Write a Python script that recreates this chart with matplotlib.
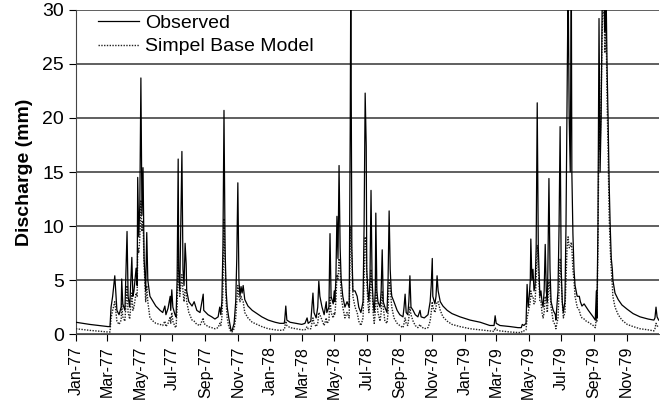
import numpy as np
import pandas as pd
import matplotlib
matplotlib.use("Agg")
import matplotlib.pyplot as plt
import matplotlib.dates as mdates

plt.rcParams['font.family'] = ['Liberation Sans', 'DejaVu Sans']

# days since 1977-01-01, observed discharge and Simpel base model (mm)
day = [0, 26, 60, 64, 66, 69, 73, 77, 81, 85, 86, 88, 92, 96, 98, 101, 105, 107, 109, 113,
       115, 116, 118, 120, 122, 124, 126, 128, 130, 131, 133, 135, 139, 145, 150, 158, 163, 167, 169, 173,
       177, 178, 180, 182, 186, 188, 190, 192, 193, 195, 199, 201, 203, 205, 207, 208, 212, 218, 222, 227,
       233, 239, 240, 248, 255, 261, 267, 270, 272, 274, 276, 278, 280, 282, 284, 287, 291, 293, 297, 300,
       302, 304, 306, 308, 310, 312, 314, 317, 323, 331, 340, 349, 361, 374, 383, 391, 392, 394, 396, 402,
       413, 424, 430, 434, 436, 441, 445, 447, 451, 454, 456, 458, 462, 466, 470, 471, 475, 477, 479, 483,
       485, 486, 488, 490, 492, 494, 496, 498, 501, 505, 509, 513, 515, 516, 518, 520, 524, 528, 531, 535,
       539, 541, 543, 545, 546, 548, 550, 552, 554, 556, 558, 560, 562, 563, 565, 567, 571, 573, 575, 577,
       580, 584, 586, 588, 590, 592, 593, 597, 603, 608, 614, 616, 618, 620, 623, 625, 627, 629, 633, 637,
       642, 646, 648, 654, 661, 665, 667, 669, 670, 674, 676, 678, 680, 684, 689, 697, 706, 721, 740, 759,
       777, 785, 787, 789, 796, 815, 830, 836, 838, 841, 845, 847, 849, 851, 853, 854, 856, 858, 860, 862,
       864, 866, 868, 870, 871, 873, 875, 877, 879, 881, 883, 885, 886, 888, 890, 892, 896, 900, 901, 905,
       907, 909, 911, 913, 915, 918, 920, 922, 924, 926, 928, 930, 931, 933, 935, 937, 941, 945, 947, 950,
       954, 958, 962, 965, 971, 975, 977, 978, 980, 982, 984, 986, 988, 990, 992, 993, 995, 997, 999, 1001,
       1003, 1005, 1007, 1008, 1012, 1018, 1025, 1035, 1046, 1059, 1074, 1085, 1087, 1089, 1091, 1094]

observed = [1.1, 0.9, 0.7, 0.7, 2.5, 3.5, 5.4, 2.2, 1.8, 2.5, 5.1, 2.8, 2.2, 9.5, 3.5, 2.5, 7.1, 3.5, 4.0, 6.1,
            4.5, 14.5, 9.0, 12.0, 23.7, 11.0, 15.4, 7.0, 5.0, 4.0, 9.4, 5.0, 3.5, 3.0, 2.6, 2.2, 2.0, 2.6, 1.8, 2.4,
            3.5, 2.2, 4.1, 2.5, 1.8, 1.6, 5.0, 16.2, 6.0, 4.0, 16.9, 6.0, 4.5, 8.4, 6.5, 4.0, 3.0, 2.6, 3.0, 2.2,
            2.0, 3.7, 2.2, 1.8, 1.6, 1.4, 1.6, 2.5, 1.8, 3.0, 8.0, 20.7, 8.0, 4.0, 2.5, 1.5, 0.4, 0.3, 1.0, 3.0,
            7.0, 14.0, 5.0, 3.5, 4.4, 3.8, 4.5, 3.2, 2.6, 2.2, 1.9, 1.6, 1.3, 1.1, 1.0, 1.0, 1.3, 2.6, 1.3, 1.1,
            1.0, 0.9, 1.0, 1.5, 1.0, 1.2, 3.8, 2.0, 1.5, 2.5, 4.9, 3.5, 2.5, 1.8, 3.0, 2.0, 2.5, 9.3, 3.5, 2.8,
            4.0, 3.0, 5.0, 10.9, 7.0, 15.6, 8.0, 5.0, 3.5, 2.5, 3.0, 2.5, 19.4, 33.0, 8.0, 4.0, 4.0, 3.5, 2.5, 2.0,
            3.0, 10.0, 22.3, 17.4, 6.0, 4.0, 3.0, 5.0, 13.3, 5.0, 3.0, 2.0, 4.0, 11.2, 4.0, 3.0, 2.5, 4.0, 7.8, 3.0,
            2.5, 2.0, 5.0, 11.4, 6.0, 4.0, 3.5, 3.0, 2.2, 1.8, 1.6, 2.5, 3.7, 2.0, 1.8, 3.0, 5.4, 2.5, 2.2, 1.8,
            1.6, 2.2, 1.6, 1.5, 1.8, 3.0, 4.5, 7.0, 3.5, 2.8, 3.5, 5.4, 4.0, 3.0, 2.6, 2.2, 1.9, 1.6, 1.3, 1.1,
            0.8, 0.8, 1.7, 1.0, 0.8, 0.7, 0.6, 0.6, 0.9, 0.8, 1.0, 4.6, 2.5, 3.5, 5.0, 8.8, 5.0, 6.0, 4.0, 4.5,
            8.0, 21.4, 8.0, 5.0, 3.5, 4.0, 3.0, 2.5, 4.0, 8.3, 4.0, 3.0, 6.0, 14.4, 6.0, 3.0, 2.2, 1.8, 1.3, 4.0,
            10.0, 19.2, 6.0, 3.0, 2.0, 3.0, 10.0, 22.0, 33.0, 20.0, 15.0, 33.0, 15.0, 9.3, 6.0, 4.5, 3.5, 3.5, 3.0, 2.6,
            2.8, 2.5, 2.2, 2.0, 1.6, 1.3, 4.0, 1.5, 10.0, 29.2, 15.0, 20.0, 31.0, 33.0, 31.0, 28.0, 33.0, 25.0, 20.0, 14.0,
            10.0, 7.0, 6.0, 5.0, 3.8, 3.2, 2.7, 2.3, 1.9, 1.6, 1.4, 1.3, 1.5, 2.5, 1.6, 1.3]

simpel = [0.5, 0.35, 0.2, 0.2, 1.5, 2.2, 3.0, 1.2, 0.9, 1.3, 2.8, 1.6, 1.2, 4.5, 2.0, 1.4, 3.8, 2.2, 2.5, 3.8,
          3.5, 8.0, 7.5, 9.0, 12.4, 9.5, 10.5, 6.5, 4.0, 3.0, 4.5, 3.0, 1.5, 1.2, 1.0, 0.9, 0.8, 1.2, 0.7, 1.0,
          1.6, 1.0, 2.0, 1.2, 0.7, 0.6, 2.5, 7.4, 5.0, 3.5, 5.5, 4.0, 3.0, 4.2, 4.0, 3.0, 2.0, 1.3, 1.2, 0.9,
          0.8, 1.5, 1.0, 0.7, 0.6, 0.5, 0.6, 1.0, 0.8, 1.5, 4.0, 10.7, 7.0, 3.0, 1.5, 0.7, 0.2, 0.2, 0.5, 1.5,
          3.0, 4.5, 3.5, 3.0, 3.5, 3.2, 3.0, 2.0, 1.5, 1.1, 0.9, 0.7, 0.5, 0.4, 0.35, 0.4, 0.6, 1.2, 0.8, 0.6,
          0.5, 0.4, 0.4, 0.7, 0.5, 0.5, 1.5, 1.0, 0.7, 1.0, 2.0, 1.8, 1.3, 0.8, 1.5, 1.0, 1.2, 3.5, 2.0, 1.5,
          2.0, 1.8, 3.0, 5.5, 5.0, 7.0, 6.0, 3.5, 2.5, 1.5, 2.0, 1.5, 8.0, 10.0, 7.0, 3.5, 2.5, 2.0, 1.2, 0.8,
          1.5, 5.0, 9.0, 8.0, 5.0, 3.0, 2.0, 3.0, 6.0, 4.0, 2.0, 1.0, 2.0, 5.0, 3.0, 2.0, 1.2, 2.0, 4.0, 2.5,
          1.2, 1.0, 2.0, 5.0, 4.5, 3.0, 2.5, 1.5, 1.0, 0.8, 0.6, 1.0, 1.5, 1.0, 0.8, 1.5, 2.5, 1.8, 1.2, 0.8,
          0.6, 0.9, 0.7, 0.5, 0.6, 1.2, 2.0, 3.0, 2.5, 2.0, 2.5, 3.0, 3.0, 2.2, 1.6, 1.2, 0.9, 0.7, 0.5, 0.4,
          0.3, 0.25, 0.6, 0.4, 0.3, 0.2, 0.15, 0.15, 0.3, 0.3, 0.4, 1.5, 2.0, 2.5, 3.0, 4.0, 3.5, 3.5, 2.8, 3.0,
          5.0, 8.2, 6.0, 4.0, 3.0, 3.0, 2.0, 1.5, 2.0, 3.5, 3.0, 2.0, 3.0, 5.0, 4.0, 2.5, 1.2, 0.8, 0.5, 1.5,
          4.0, 7.0, 5.0, 3.0, 1.5, 2.0, 5.0, 8.0, 9.0, 8.0, 8.0, 8.5, 8.0, 6.0, 5.0, 3.5, 2.5, 2.2, 1.8, 1.5,
          1.4, 1.2, 1.1, 1.0, 0.8, 0.6, 1.5, 1.2, 8.0, 20.0, 17.0, 22.0, 28.0, 31.0, 29.0, 26.0, 30.0, 22.0, 17.0, 11.0,
          8.0, 6.0, 4.5, 3.5, 2.5, 1.8, 1.3, 0.9, 0.7, 0.5, 0.4, 0.3, 0.5, 1.0, 0.8, 0.6]

dates = pd.Timestamp("1977-01-01") + pd.to_timedelta(day, unit="D")

fig = plt.figure(figsize=(6.6, 4.11), dpi=100)
ax = fig.add_axes([0.115, 0.187, 0.883, 0.789])

ax.plot(dates, simpel, color="#222222", lw=1.0, ls=(0, (1, 1)), label="Simpel Base Model", zorder=3)
ax.plot(dates, observed, color="black", lw=0.9, label="Observed", zorder=4)

ax.set_ylim(0, 30)
ax.set_yticks(np.arange(0, 31, 5))
ax.set_xlim(pd.Timestamp("1977-01-01"), pd.Timestamp("1979-12-31"))
ax.xaxis.set_major_locator(mdates.MonthLocator(bymonth=[1, 3, 5, 7, 9, 11]))
ax.xaxis.set_major_formatter(mdates.DateFormatter("%b-%y"))
plt.setp(ax.get_xticklabels(), rotation=90)

ax.grid(axis="y", color="#444444", lw=1.2)
ax.set_axisbelow(True)
for s in ["top", "right"]:
    ax.spines[s].set_visible(False)
ax.spines["left"].set_color("#444444")
ax.spines["bottom"].set_color("#444444")
ax.tick_params(axis="y", labelsize=14, length=5, direction="out")
ax.tick_params(axis="x", labelsize=11.5, length=5, direction="out")
ax.set_ylabel("Discharge (mm)", fontsize=14, fontweight="bold", labelpad=7)

h, l = ax.get_legend_handles_labels()
ax.legend(h[::-1], l[::-1], loc="upper left", frameon=False, fontsize=14,
          handlelength=2.1, handletextpad=0.3, borderaxespad=0,
          bbox_to_anchor=(0.025, 1.01), labelspacing=0.3)

fig.savefig("out.png", dpi=100)
